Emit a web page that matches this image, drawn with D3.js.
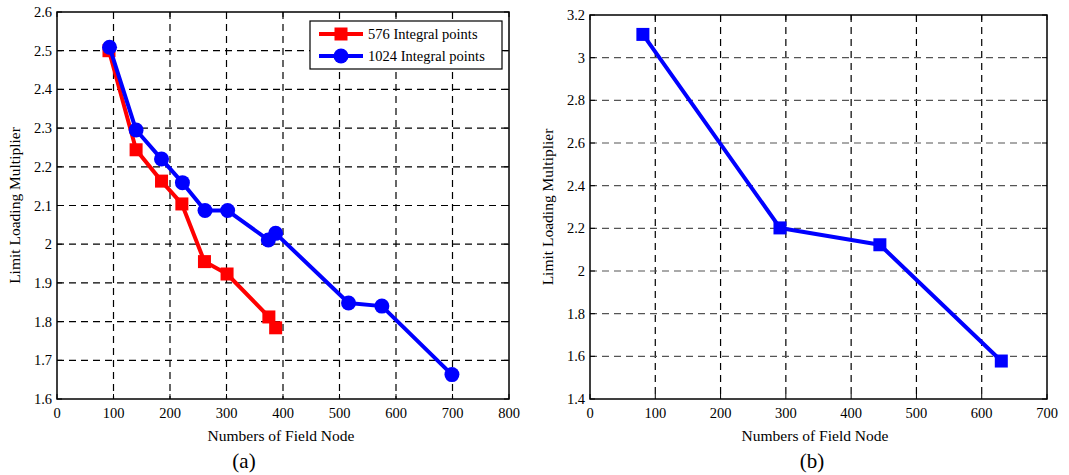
<!DOCTYPE html>
<html>
<head>
<meta charset="utf-8">
<script src="https://cdn.jsdelivr.net/npm/d3@7"></script>
<style>
  body { margin: 0; background: #fff; }
  svg text { font-family: "Liberation Serif", "DejaVu Serif", serif; fill: #000; }
</style>
</head>
<body>
<svg id="chart" width="1069" height="475" font-family="Liberation Serif, DejaVu Serif, serif"></svg>
<script>
// (a) 576 integral points
const redX = [92, 140, 185, 221, 261, 301, 375, 387];
const redY = [2.50, 2.244, 2.163, 2.104, 1.955, 1.923, 1.812, 1.784];
// (a) 1024 integral points
const blueX = [93, 140, 185, 222, 262, 302, 374, 387, 516, 575, 699];
const blueY = [2.509, 2.295, 2.220, 2.159, 2.087, 2.087, 2.011, 2.028, 1.848, 1.840, 1.663];
// (b)
const bX = [81, 291, 444, 630];
const bY = [3.109, 2.202, 2.123, 1.578];

const xTicksA = [0, 100, 200, 300, 400, 500, 600, 700, 800];
const yTicksA = [1.6, 1.7, 1.8, 1.9, 2, 2.1, 2.2, 2.3, 2.4, 2.5, 2.6];
const xTicksB = [0, 100, 200, 300, 400, 500, 600, 700];
const yTicksB = [1.4, 1.6, 1.8, 2, 2.2, 2.4, 2.6, 2.8, 3, 3.2];
const legendLabels = ["576 Integral points", "1024 Integral points"];

const svg = d3.select("#chart");

function panel(opt) {
    const x = d3.scaleLinear().domain(opt.xDomain).range([opt.left, opt.right]);
    const y = d3.scaleLinear().domain(opt.yDomain).range([opt.bottom, opt.top]);
    const g = svg.append("g");

    // grid
    g.selectAll(".vg").data(opt.xTicks.slice(1, -1)).enter().append("line")
        .attr("x1", d => x(d)).attr("x2", d => x(d))
        .attr("y1", opt.top).attr("y2", opt.bottom)
        .attr("stroke", "#000").attr("stroke-width", 1.2)
        .attr("stroke-dasharray", "7,5");
    g.selectAll(".hg").data(opt.yTicks.slice(1, -1)).enter().append("line")
        .attr("x1", opt.left).attr("x2", opt.right)
        .attr("y1", d => y(d)).attr("y2", d => y(d))
        .attr("stroke", opt.hGridColor).attr("stroke-width", 1.2)
        .attr("stroke-dasharray", "7,5");

    // inward ticks
    opt.xTicks.forEach(t => {
        g.append("line").attr("x1", x(t)).attr("x2", x(t)).attr("y1", opt.bottom).attr("y2", opt.bottom - 5).attr("stroke", "#000");
        g.append("line").attr("x1", x(t)).attr("x2", x(t)).attr("y1", opt.top).attr("y2", opt.top + 5).attr("stroke", "#000");
    });
    opt.yTicks.forEach(t => {
        g.append("line").attr("x1", opt.left).attr("x2", opt.left + 5).attr("y1", y(t)).attr("y2", y(t)).attr("stroke", "#000");
        g.append("line").attr("x1", opt.right).attr("x2", opt.right - 5).attr("y1", y(t)).attr("y2", y(t)).attr("stroke", "#000");
    });

    // frame
    g.append("rect")
        .attr("x", opt.left).attr("y", opt.top)
        .attr("width", opt.right - opt.left).attr("height", opt.bottom - opt.top)
        .attr("fill", "none").attr("stroke", "#000").attr("stroke-width", 1.5);

    // tick labels
    g.selectAll(".xl").data(opt.xTicks).enter().append("text")
        .attr("x", d => x(d)).attr("y", opt.bottom + 19)
        .attr("text-anchor", "middle").attr("font-size", 14.5)
        .text(d => d);
    g.selectAll(".yl").data(opt.yTicks).enter().append("text")
        .attr("x", opt.left - 5).attr("y", d => y(d) + 5)
        .attr("text-anchor", "end").attr("font-size", 14.5)
        .text(d => d);

    // axis titles
    g.append("text")
        .attr("x", opt.xLabelX).attr("y", opt.bottom + 42)
        .attr("text-anchor", "middle").attr("font-size", 15.5)
        .text("Numbers of Field Node");
    g.append("text")
        .attr("transform", `translate(${opt.yLabelX},${(opt.top + opt.bottom) / 2}) rotate(-90)`)
        .attr("text-anchor", "middle").attr("font-size", 15.5)
        .text("Limit Loading Multiplier");
    g.append("text")
        .attr("x", opt.capX).attr("y", 468)
        .attr("text-anchor", "middle").attr("font-size", 21)
        .text(opt.caption);

    return { g, x, y };
}

function drawSeries(p, xs, ys, color, marker) {
    const pts = xs.map((d, i) => [d, ys[i]]);
    const line = d3.line().x(d => p.x(d[0])).y(d => p.y(d[1]));
    p.g.append("path").datum(pts)
        .attr("d", line).attr("fill", "none")
        .attr("stroke", color).attr("stroke-width", 4)
        .attr("stroke-linejoin", "round");
    if (marker === "square") {
        p.g.selectAll(null).data(pts).enter().append("rect")
            .attr("x", d => p.x(d[0]) - 6.5).attr("y", d => p.y(d[1]) - 6.5)
            .attr("width", 13).attr("height", 13).attr("fill", color);
    } else {
        p.g.selectAll(null).data(pts).enter().append("circle")
            .attr("cx", d => p.x(d[0])).attr("cy", d => p.y(d[1]))
            .attr("r", 7.5).attr("fill", color);
    }
}

const pa = panel({
    left: 57, right: 509, top: 12, bottom: 399,
    xDomain: [0, 800], yDomain: [1.6, 2.6],
    xTicks: xTicksA, yTicks: yTicksA, hGridColor: "#000",
    xLabelX: 281, yLabelX: 20, capX: 244, caption: "(a)"
});
drawSeries(pa, redX, redY, "#ff0000", "square");
drawSeries(pa, blueX, blueY, "#0000ff", "circle");

// legend
const lg = pa.g.append("g");
lg.append("rect").attr("x", 310).attr("y", 21).attr("width", 192).attr("height", 48)
    .attr("fill", "#fff").attr("stroke", "#000").attr("stroke-width", 1.2);
[["#ff0000", "square"], ["#0000ff", "circle"]].forEach(([c, m], i) => {
    const ly = 34 + i * 22;
    lg.append("line").attr("x1", 319).attr("x2", 363).attr("y1", ly).attr("y2", ly)
        .attr("stroke", c).attr("stroke-width", 4);
    if (m === "square") {
        lg.append("rect").attr("x", 341 - 6.5).attr("y", ly - 6.5).attr("width", 13).attr("height", 13).attr("fill", c);
    } else {
        lg.append("circle").attr("cx", 341).attr("cy", ly).attr("r", 7.5).attr("fill", c);
    }
    lg.append("text").attr("x", 368).attr("y", ly + 5).attr("font-size", 14.5).text(legendLabels[i]);
});

const pb = panel({
    left: 590, right: 1047, top: 15, bottom: 399,
    xDomain: [0, 700], yDomain: [1.4, 3.2],
    xTicks: xTicksB, yTicks: yTicksB, hGridColor: "#555",
    xLabelX: 815, yLabelX: 553, capX: 812, caption: "(b)"
});
drawSeries(pb, bX, bY, "#0000ff", "square");
</script>
</body>
</html>
